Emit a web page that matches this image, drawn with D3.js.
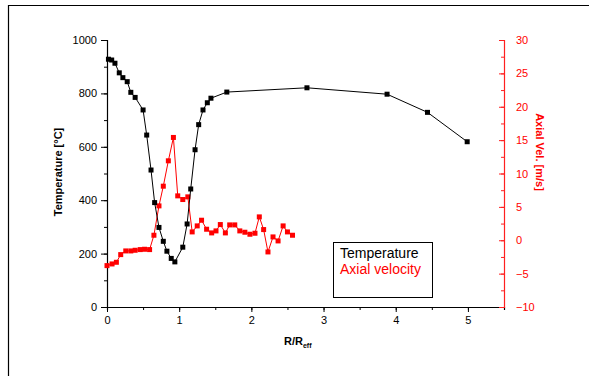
<!DOCTYPE html>
<meta charset="utf-8">
<script src="https://d3js.org/d3.v7.min.js"></script>
<style>
  body { margin: 0; background: white; }
  svg text { font-family: "Liberation Sans", Arial, sans-serif; }
</style>
<body>
<div id="chart"></div>
<script>
// temperature profile (black, left axis)
var tempR = [0.02, 0.065, 0.11, 0.17, 0.22, 0.28, 0.33, 0.39, 0.50, 0.55, 0.61, 0.66, 0.72, 0.78, 0.83, 0.89, 0.94,
             1.05, 1.11, 1.16, 1.22, 1.27, 1.33, 1.39, 1.44, 1.66, 2.77, 3.88, 4.44, 4.99];
var tempVal = [928, 925, 913, 877, 859, 844, 804, 785, 738, 644, 513, 391, 298, 246, 209, 182, 169,
               224, 311, 442, 589, 683, 738, 765, 782, 805, 821, 797, 729, 619];

// axial velocity (red, right axis)
var velR = [0.00, 0.07, 0.13, 0.19, 0.26, 0.33, 0.39, 0.46, 0.52, 0.59, 0.65, 0.72, 0.78, 0.85, 0.92, 0.98,
            1.05, 1.12, 1.18, 1.25, 1.31, 1.38, 1.45, 1.51, 1.57, 1.64, 1.70, 1.77, 1.84, 1.91, 1.98,
            2.05, 2.11, 2.17, 2.23, 2.30, 2.37, 2.44, 2.50, 2.57];
var velVal = [-3.8, -3.55, -3.3, -2.15, -1.6, -1.6, -1.5, -1.4, -1.35, -1.4, 0.75, 5.15, 8.1, 11.9, 15.4, 6.65,
              6.1, 6.5, 1.25, 2.15, 3.0, 1.65, 1.1, 1.4, 2.35, 1.1, 2.3, 2.3, 1.4, 1.2, 0.9,
              1.05, 3.5, 1.6, -1.75, 0.5, -0.1, 2.15, 1.25, 0.75];

var xTicks = [0, 1, 2, 3, 4, 5];
var yLeftTicks = [0, 200, 400, 600, 800, 1000];
var yRightTicks = [-10, -5, 0, 5, 10, 15, 20, 25, 30];

var W = 589, H = 376;
var plotL = 107, plotR = 504, plotT = 40, plotB = 307;

var svg = d3.select("#chart").append("svg")
    .attr("width", W).attr("height", H);

// page frame
svg.append("line").attr("x1", 8).attr("x2", W).attr("y1", 5.5).attr("y2", 5.5)
    .attr("stroke", "black").attr("stroke-width", 1.2);
svg.append("line").attr("x1", 8.5).attr("x2", 8.5).attr("y1", 5).attr("y2", H)
    .attr("stroke", "black").attr("stroke-width", 1.2);

var x = d3.scaleLinear().domain([0, 5.5]).range([plotL, plotR]);
var yT = d3.scaleLinear().domain([0, 1000]).range([plotB, plotT]);
var yV = d3.scaleLinear().domain([-10, 30]).range([plotB, plotT]);

// bottom axis
var gx = svg.append("g").attr("transform", "translate(0," + plotB + ")");
gx.call(d3.axisBottom(x).tickValues(d3.range(0, 5.51, 0.5)).tickSize(3).tickFormat(""));
var gx2 = svg.append("g").attr("transform", "translate(0," + plotB + ")");
gx2.call(d3.axisBottom(x).tickValues(xTicks).tickSize(5).tickPadding(4).tickFormat(d3.format("d")));
gx2.select(".domain").remove();

// left axis
var gy = svg.append("g").attr("transform", "translate(" + plotL + ",0)");
gy.call(d3.axisLeft(yT).tickValues(d3.range(0, 1001, 100)).tickSize(3).tickFormat(""));
var gy2 = svg.append("g").attr("transform", "translate(" + plotL + ",0)");
gy2.call(d3.axisLeft(yT).tickValues(yLeftTicks).tickSize(6).tickPadding(4).tickFormat(d3.format("d")));
gy2.select(".domain").remove();

// right axis (red, ticks inward)
var gr = svg.append("g").attr("transform", "translate(" + plotR + ",0)");
gr.call(d3.axisRight(yV).tickValues(d3.range(-10, 30.1, 2.5)).tickSize(-3).tickFormat(""));
var gr2 = svg.append("g").attr("transform", "translate(" + plotR + ",0)");
gr2.call(d3.axisRight(yV).tickValues(yRightTicks).tickSize(-5).tickPadding(12).tickFormat(d3.format("d")));
gr2.select(".domain").remove();
gr.selectAll("path,line").attr("stroke", "#ff2020");
gr2.selectAll("line").attr("stroke", "#ff2020");
gr2.selectAll("text").attr("fill", "#ff0000");

svg.selectAll(".tick text").attr("font-size", 11).attr("font-family", "Liberation Sans, Arial, sans-serif");
svg.selectAll(".domain").attr("stroke-width", 1.2);

// axis titles
svg.append("text")
    .attr("transform", "translate(62,172) rotate(-90)")
    .attr("text-anchor", "middle")
    .attr("font-size", 11).attr("font-weight", "bold")
    .text("Temperature [°C]");

svg.append("text")
    .attr("transform", "translate(536,152) rotate(90)")
    .attr("text-anchor", "middle")
    .attr("font-size", 11).attr("font-weight", "bold")
    .attr("fill", "#ff0000")
    .text("Axial Vel. [m/s]");

var xl = svg.append("text")
    .attr("x", 284).attr("y", 345)
    .attr("font-size", 11).attr("font-weight", "bold");
xl.append("tspan").text("R/R");
xl.append("tspan").attr("font-size", 7).attr("dy", 3).text("eff");

// lines and markers
var tData = tempR.map(function(r, i) { return [r, tempVal[i]]; });
var vData = velR.map(function(r, i) { return [r, velVal[i]]; });

svg.append("path").datum(vData)
    .attr("fill", "none").attr("stroke", "#ff0000").attr("stroke-width", 1)
    .attr("d", d3.line().x(function(d) { return x(d[0]); }).y(function(d) { return yV(d[1]); }));
svg.selectAll(".vm").data(vData).enter().append("rect")
    .attr("class", "vm")
    .attr("x", function(d) { return x(d[0]) - 2.5; })
    .attr("y", function(d) { return yV(d[1]) - 2.5; })
    .attr("width", 5).attr("height", 5)
    .attr("fill", "#ff0000");

svg.append("path").datum(tData)
    .attr("fill", "none").attr("stroke", "black").attr("stroke-width", 1)
    .attr("d", d3.line().x(function(d) { return x(d[0]); }).y(function(d) { return yT(d[1]); }));
svg.selectAll(".tm").data(tData).enter().append("rect")
    .attr("class", "tm")
    .attr("x", function(d) { return x(d[0]) - 2.5; })
    .attr("y", function(d) { return yT(d[1]) - 2.5; })
    .attr("width", 5).attr("height", 5)
    .attr("fill", "black");

// legend
svg.append("rect")
    .attr("x", 333.5).attr("y", 242.5).attr("width", 99).attr("height", 55)
    .attr("fill", "white").attr("stroke", "black").attr("stroke-width", 1);
svg.append("text").attr("x", 340).attr("y", 258).attr("font-size", 14)
    .text("Temperature");
svg.append("text").attr("x", 340).attr("y", 274).attr("font-size", 14)
    .attr("fill", "#ff0000").text("Axial velocity");
</script>
</body>
